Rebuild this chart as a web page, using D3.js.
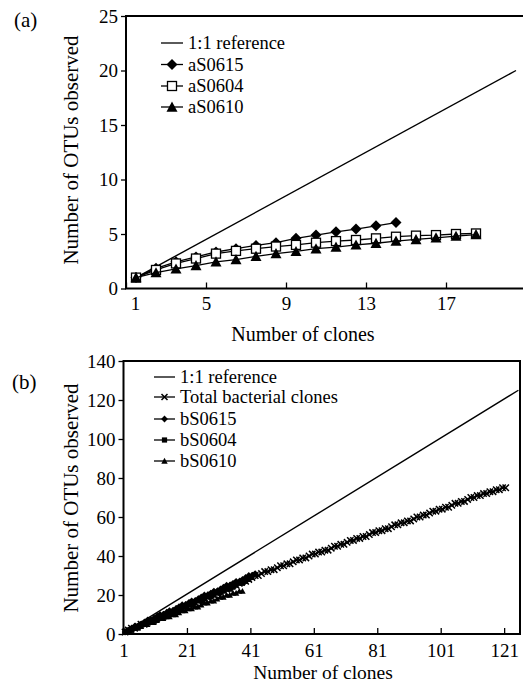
<!DOCTYPE html>
<html><head><meta charset="utf-8">
<script src="https://cdn.jsdelivr.net/npm/d3@7"></script>
<style>
body{margin:0;background:#fff}
text{font-family:"Liberation Serif","Times New Roman",serif;fill:#000}
</style>
</head><body>
<svg id="c" width="523" height="684"></svg>
<script>
// ---------- Panel (a) data ----------
const refA = [1, 20];                  // 1:1 reference endpoints (clones = OTUs)
const aS0615 = [1, 1.85, 2.45, 2.9, 3.35, 3.65, 3.95, 4.2, 4.6, 4.9, 5.2, 5.45, 5.75, 6.05];
const aS0604 = [1, 1.7, 2.3, 2.75, 3.2, 3.45, 3.65, 3.85, 4.0, 4.2, 4.35, 4.45, 4.6, 4.75, 4.85, 4.9, 5.0, 5.05];
const aS0610 = [1, 1.45, 1.8, 2.1, 2.45, 2.65, 2.95, 3.2, 3.4, 3.65, 3.8, 4.0, 4.15, 4.35, 4.5, 4.65, 4.8, 4.95];
const xTicksA = [1, 5, 9, 13, 17];
const yTicksA = [0, 5, 10, 15, 20, 25];
const legendA = ["1:1 reference", "aS0615", "aS0604", "aS0610"];

// ---------- Panel (b) data ----------
const refB = [1, 125];
const totalB = [1,2,3,3,4,5,5,6,7,7, 8,9,9,10,11,11,12,13,13,14, 15,16,16,17,18,18,19,20,20,21,
  22,23,23,24,25,25,26,27,27,28, 29,30,30,31, 32,32,33,33,34,35, 35,36,36,37,38,38,39,39,40,41,
  41,42,42,43,43,44,45,45,46,46, 47,48,48,49,49,50,50,51,52,52, 53,53,54,54,55,56,56,57,57,58,
  58,59,60,60,61,61,62,63,63,64, 64,65,65,66,67,67,68,68,69,70, 70,71,71,72,72,73,73,74,74,75,75];
const bS0615 = [1,2,3,4,4,5,6,7,7,8, 9,10,10,11,12,12,13,14,15,15, 16,17,17,18,19,20,20,21,22,22,
  23,24,25,25,26,27,27,28,29,30, 30,31];
const bS0604 = [1,2,2,3,4,5,5,6,7,7, 8,9,9,10,11,11,12,13,13,14, 15,15,16,17,17,18,19,19,20,21,
  21,22,23,23,24,25,26,26,27,28, 29];
const bS0610 = [1,2,2,3,3,4,5,5,6,6, 7,8,8,9,9,10,10,11,12,12, 13,13,14,14,15,16,16,17,17,18,
  19,19,20,20,21,21,22,22];
const xTicksB = [1, 21, 41, 61, 81, 101, 121];
const yTicksB = [0, 20, 40, 60, 80, 100, 120, 140];
const legendB = ["1:1 reference", "Total bacterial clones", "bS0615", "bS0604", "bS0610"];

const svg = d3.select("#c");

function marker(g, type, h, sw) {
  if (type === "diamond") g.append("path").attr("d", `M0,${-h}L${h},0L0,${h}L${-h},0Z`).attr("fill", "#000");
  else if (type === "square") g.append("rect").attr("x", -h).attr("y", -h).attr("width", 2*h).attr("height", 2*h).attr("fill", "#fff").attr("stroke", "#000").attr("stroke-width", sw);
  else if (type === "squareFill") g.append("rect").attr("x", -h).attr("y", -h).attr("width", 2*h).attr("height", 2*h).attr("fill", "#000");
  else if (type === "triangle") g.append("path").attr("d", `M0,${-h}L${h},${h*0.85}L${-h},${h*0.85}Z`).attr("fill", "#000");
  else if (type === "cross") g.append("path").attr("d", `M${-h},${-h}L${h},${h}M${-h},${h}L${h},${-h}`).attr("stroke", "#000").attr("stroke-width", sw).attr("fill", "none");
}

function panel(cfg) {
  const g = svg.append("g");
  const x = d3.scaleLinear().domain(cfg.xDomain).range([cfg.left, cfg.right]);
  const y = d3.scaleLinear().domain(cfg.yDomain).range([cfg.bottom, cfg.top]);

  const ya = g.append("g").attr("transform", `translate(${cfg.left},0)`)
    .call(d3.axisLeft(y).tickValues(cfg.yTicks).tickSize(5).tickPadding(3));
  const xa = g.append("g").attr("transform", `translate(0,${cfg.bottom})`)
    .call(d3.axisBottom(x).tickValues(cfg.xTicks).tickSize(-6).tickPadding(cfg.xPad));
  [ya, xa].forEach(a => {
    a.attr("font-family", null).attr("font-size", null);
    a.select(".domain").remove();
    a.selectAll("line").attr("stroke", "#000").attr("stroke-width", 1.3);
    a.selectAll("text").attr("font-size", cfg.tickFont).attr("fill", "#000");
  });
  if (cfg.firstLabelDx) xa.selectAll("text").filter(d => d === cfg.xTicks[0]).attr("dx", cfg.firstLabelDx);

  g.append("rect").attr("x", cfg.left).attr("y", cfg.top)
    .attr("width", cfg.right - cfg.left).attr("height", cfg.bottom - cfg.top)
    .attr("fill", "none").attr("stroke", "#000").attr("stroke-width", 2);

  g.append("line")
    .attr("x1", x(cfg.ref[0] + 0.5)).attr("y1", y(cfg.ref[0]))
    .attr("x2", x(cfg.ref[1] + 0.5)).attr("y2", y(cfg.ref[1]))
    .attr("stroke", "#000").attr("stroke-width", 1.4);

  const line = d3.line().x((d, i) => x(i + 1.5)).y(d => y(d));
  cfg.series.forEach(s => {
    g.append("path").datum(s.values).attr("d", line)
      .attr("fill", "none").attr("stroke", "#000").attr("stroke-width", cfg.lineW);
    s.values.forEach((v, i) => {
      const m = g.append("g").attr("transform", `translate(${x(i + 1.5)},${y(v)})`);
      marker(m, s.marker, s.size, s.sw || 1.2);
    });
  });

  cfg.legend.forEach((name, i) => {
    const yy = cfg.legY[i];
    g.append("line").attr("x1", cfg.legX0).attr("x2", cfg.legX1).attr("y1", yy).attr("y2", yy)
      .attr("stroke", "#000").attr("stroke-width", 1.3);
    if (i > 0) {
      const s = cfg.series[i - 1];
      const m = g.append("g").attr("transform", `translate(${(cfg.legX0 + cfg.legX1) / 2},${yy})`);
      marker(m, s.marker, s.legSize || s.size, s.sw || 1.2);
    }
    g.append("text").attr("x", cfg.legX1 + 5).attr("y", yy).attr("dy", "0.35em")
      .attr("font-size", cfg.legFont).text(name);
  });

  g.append("text").attr("x", cfg.xTitleX).attr("y", cfg.xTitleY).attr("text-anchor", "middle")
    .attr("font-size", cfg.xTitleFont).text("Number of clones");
  g.append("text").attr("transform", `translate(${cfg.yTitleX},${cfg.yTitleY}) rotate(-90)`)
    .attr("text-anchor", "middle").attr("font-size", cfg.yTitleFont).text("Number of OTUs observed");
  g.append("text").attr("x", cfg.labX).attr("y", cfg.labY).attr("font-size", 21).text(cfg.label);
}

panel({
  xDomain: [1, 21], yDomain: [0, 25], left: 126, right: 526, top: 16, bottom: 288.5,
  xTicks: xTicksA, yTicks: yTicksA, tickFont: 19, xPad: 8, firstLabelDx: 9, ref: refA, lineW: 1.3,
  series: [
    { values: aS0615, marker: "diamond", size: 5.5 },
    { values: aS0604, marker: "square", size: 4.5, sw: 1.3 },
    { values: aS0610, marker: "triangle", size: 5.5 }
  ],
  legend: legendA, legX0: 161, legX1: 183, legY: [43, 64.5, 86, 107], legFont: 18.5,
  xTitleX: 303, xTitleY: 341, xTitleFont: 20, yTitleX: 78, yTitleY: 150, yTitleFont: 21,
  label: "(a)", labX: 14, labY: 27
});

panel({
  xDomain: [1, 126], yDomain: [0, 140], left: 123.5, right: 520, top: 361, bottom: 634,
  xTicks: xTicksB, yTicks: yTicksB, tickFont: 19, xPad: 10, ref: refB, lineW: 1.3,
  series: [
    { values: totalB, marker: "cross", size: 3.2, sw: 1.5, legSize: 3 },
    { values: bS0615, marker: "diamond", size: 3.4 },
    { values: bS0604, marker: "squareFill", size: 2.6 },
    { values: bS0610, marker: "triangle", size: 3.2 }
  ],
  legend: legendB, legX0: 154, legX1: 175, legY: [377, 397, 419, 440, 461], legFont: 18.5,
  xTitleX: 323, xTitleY: 679, xTitleFont: 19.5, yTitleX: 78, yTitleY: 498, yTitleFont: 21,
  label: "(b)", labX: 12, labY: 389
});
</script>
</body></html>
